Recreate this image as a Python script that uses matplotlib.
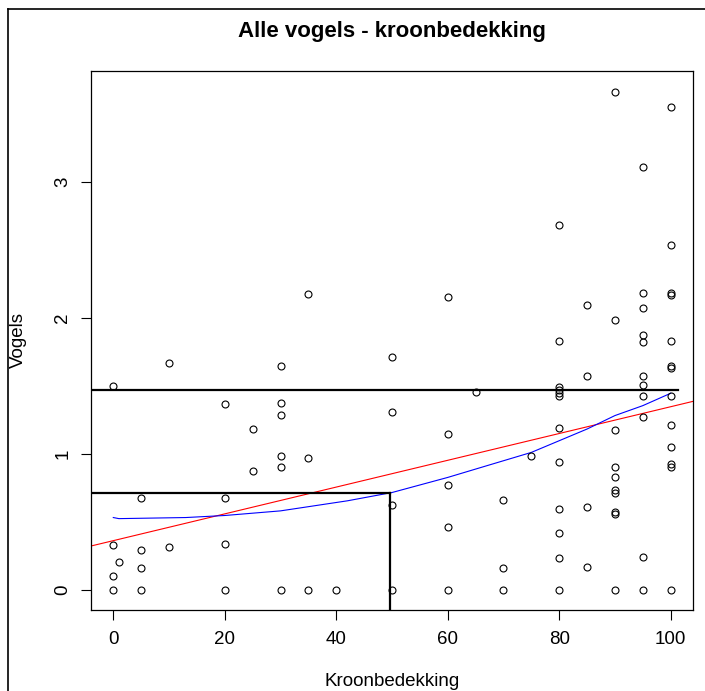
import numpy as np
import matplotlib
matplotlib.use('Agg')
import matplotlib.pyplot as plt
from matplotlib.lines import Line2D

plt.rcParams['font.family'] = ['Liberation Sans', 'DejaVu Sans']

# kroonbedekking (%) and vogels
kroon = [0, 0, 0, 0,
         1,
         5, 5, 5, 5,
         10, 10,
         20, 20, 20, 20,
         25, 25,
         30, 30, 30, 30, 30, 30,
         35, 35, 35,
         40,
         50, 50, 50, 50,
         60, 60, 60, 60, 60,
         65,
         70, 70, 70,
         75,
         80, 80, 80, 80, 80, 80, 80, 80, 80, 80, 80, 80,
         85, 85, 85, 85,
         90, 90, 90, 90, 90, 90, 90, 90, 90, 90,
         95, 95, 95, 95, 95, 95, 95, 95, 95, 95, 95,
         100, 100, 100, 100, 100, 100, 100, 100, 100, 100, 100, 100, 100]
vogels = [1.50, 0.334, 0.101, 0,
          0.206,
          0.678, 0.293, 0.162, 0,
          1.673, 0.317,
          1.369, 0.678, 0.341, 0,
          1.184, 0.872,
          1.649, 1.376, 1.288, 0.983, 0.902, 0,
          2.18, 0.968, 0,
          0,
          1.712, 1.312, 0.622, 0,
          2.155, 1.145, 0.774, 0.462, 0,
          1.459,
          0.661, 0.165, 0,
          0.983,
          2.685, 1.833, 1.491, 1.472, 1.452, 1.430, 1.192, 0.943, 0.599, 0.422, 0.236, 0,
          2.098, 1.575, 0.607, 0.172,
          3.663, 1.985, 1.177, 0.902, 0.831, 0.735, 0.715, 0.577, 0.558, 0,
          3.11, 2.187, 2.076, 1.872, 1.823, 1.575, 1.506, 1.430, 1.273, 0.243, 0,
          3.553, 2.541, 2.187, 2.167, 1.833, 1.646, 1.634, 1.425, 1.216, 1.049, 0.926, 0.907, 0]

# linear fit (red)
lin_intercept = 0.363
lin_slope = 0.00985

# smooth fit (blue)
smooth_x = [0, 1, 13, 20, 30, 42, 50, 60, 67, 75, 80, 85, 90, 95, 100]
smooth_y = [0.533, 0.525, 0.533, 0.548, 0.582, 0.656, 0.717, 0.828, 0.914,
            1.012, 1.098, 1.184, 1.283, 1.356, 1.447]

# reference lines (black)
upper_level = 1.47
upper_end = 101.3
lower_level = 0.717
lower_x = 49.6

xticks = [0, 20, 40, 60, 80, 100]
yticks = [0, 1, 2, 3]

fig = plt.figure(figsize=(7.05, 6.91), dpi=100)
ax = fig.add_axes([91/705, 81/691, 602/705, 539/691])

ax.plot(kroon, vogels, 'o', mfc='none', mec='black', ms=5, mew=0.8, zorder=3)
ax.axline((0, lin_intercept), slope=lin_slope, color='#ff0000', lw=0.8)
ax.plot(smooth_x, smooth_y, color='#0000ff', lw=0.8)

x0 = -10
ax.plot([x0, upper_end], [upper_level, upper_level], color='black', lw=1.6)
ax.plot([x0, lower_x], [lower_level, lower_level], color='black', lw=1.6)
ax.plot([lower_x, lower_x], [lower_level, -1], color='black', lw=1.6)

ax.set_xlim(-4, 104)
ax.set_ylim(-0.147, 3.817)
ax.set_xticks(xticks)
ax.set_yticks(yticks)
ax.tick_params(direction='out', length=7.2, width=0.8, labelsize=13.5)
ax.tick_params(axis='x', pad=8)
ax.tick_params(axis='y', pad=7)
for lab in ax.get_yticklabels():
    lab.set_rotation(90)
    lab.set_va('center')
for s in ax.spines.values():
    s.set_linewidth(0.9)

fig.text(392/705, 1 - 31/691, 'Alle vogels - kroonbedekking', ha='center',
         va='center', fontsize=16, fontweight='bold')
fig.text(18/705, 1 - 340/691, 'Vogels', rotation=90, ha='center',
         va='center', fontsize=13.5)
fig.text(392/705, 5/691, 'Kroonbedekking', ha='center', va='baseline',
         fontsize=13.5)

# outer frame, cut off at right and bottom
fig.add_artist(Line2D([8/705, 8/705], [0, 1 - 9/691], color='black', lw=1.2))
fig.add_artist(Line2D([8/705, 1], [1 - 9/691, 1 - 9/691], color='black', lw=1.2))

plt.savefig('out.png', dpi=100)
